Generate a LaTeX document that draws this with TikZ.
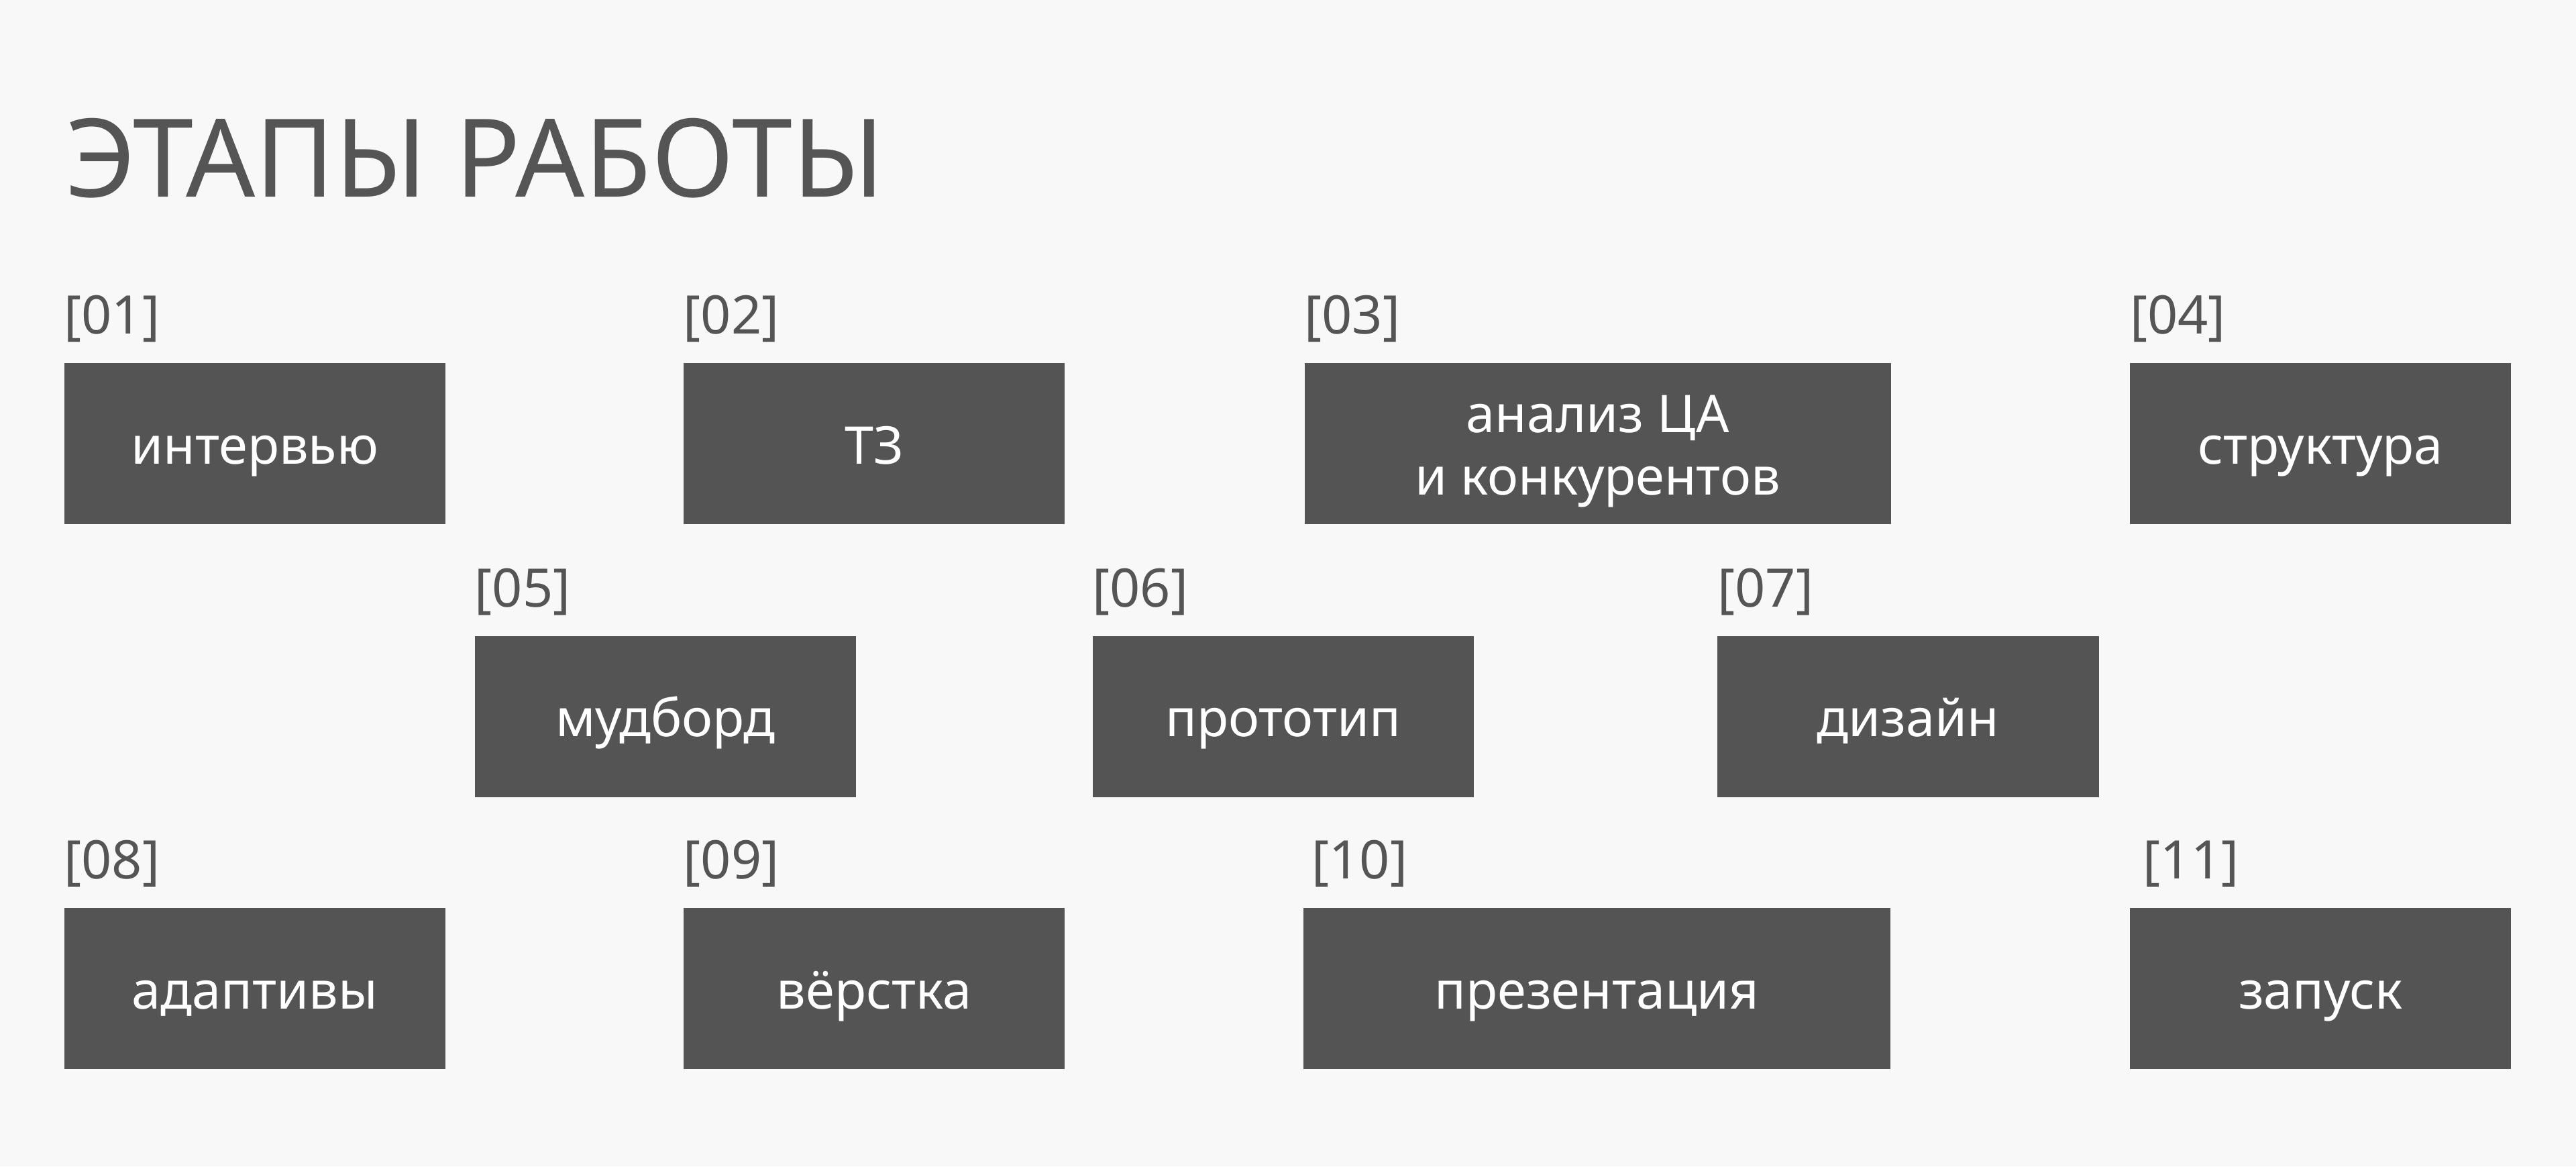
\documentclass[tikz,border=0pt]{standalone}
\usepackage{fontspec}
\setmainfont{Noto Sans}
\definecolor{bgcol}{HTML}{F8F8F8}
\definecolor{boxcol}{HTML}{545454}
\definecolor{numcol}{HTML}{555555}
\begin{document}
\begin{tikzpicture}[ scale=1,
  stage/.style={fill=boxcol, text=white, minimum width=2.32cm, minimum height=0.98cm,
    inner sep=0pt, align=center, font=\fontsize{9.0}{10.8}\selectfont,
    text height=8pt, text depth=1pt},
  wide/.style={minimum width=3.57cm},
  num/.style={anchor=base west, inner sep=0pt, text=numcol, font=\fontsize{9.2}{11}\selectfont},]
% Background
\fill[bgcol] (0,0) rectangle (15.68,-7.097);
\useasboundingbox (0,0) rectangle (15.68,-7.097);
% Title
\node[anchor=base west, inner sep=0pt, text=numcol, font=\fontsize{18.8}{22}\selectfont] (title) at (0.39,-1.20) {ЭТАПЫ РАБОТЫ};
% First row
\node[stage] (s01) at (1.55,-2.70) {интервью};
\node[stage] (s02) at (5.32,-2.70) {ТЗ};
\node[stage, wide, text height=18.8pt] (s03) at (9.725,-2.70) {анализ ЦА\\и конкурентов};
\node[stage] (s04) at (14.125,-2.70) {структура};
% Second row
\node[stage] (s05) at (4.05,-4.36) {мудборд};
\node[stage] (s06) at (7.81,-4.36) {прототип};
\node[stage] (s07) at (11.615,-4.36) {дизайн};
% Third row
\node[stage] (s08) at (1.55,-6.015) {адаптивы};
\node[stage] (s09) at (5.32,-6.015) {вёрстка};
\node[stage, wide] (s10) at (9.72,-6.015) {презентация};
\node[stage] (s11) at (14.125,-6.015) {запуск};
% Numbers
\node[num] (n01) at ([yshift=0.17cm]s01.north west) {[01]};
\node[num] (n02) at ([yshift=0.17cm]s02.north west) {[02]};
\node[num] (n03) at ([yshift=0.17cm]s03.north west) {[03]};
\node[num] (n04) at ([yshift=0.17cm]s04.north west) {[04]};
\node[num] (n05) at ([yshift=0.17cm]s05.north west) {[05]};
\node[num] (n06) at ([yshift=0.17cm]s06.north west) {[06]};
\node[num] (n07) at ([yshift=0.17cm]s07.north west) {[07]};
\node[num] (n08) at ([yshift=0.17cm]s08.north west) {[08]};
\node[num] (n09) at ([yshift=0.17cm]s09.north west) {[09]};
\node[num] (n10) at ([xshift=0.05cm,yshift=0.17cm]s10.north west) {[10]};
\node[num] (n11) at ([xshift=0.08cm,yshift=0.17cm]s11.north west) {[11]};
\end{tikzpicture}
\end{document}
